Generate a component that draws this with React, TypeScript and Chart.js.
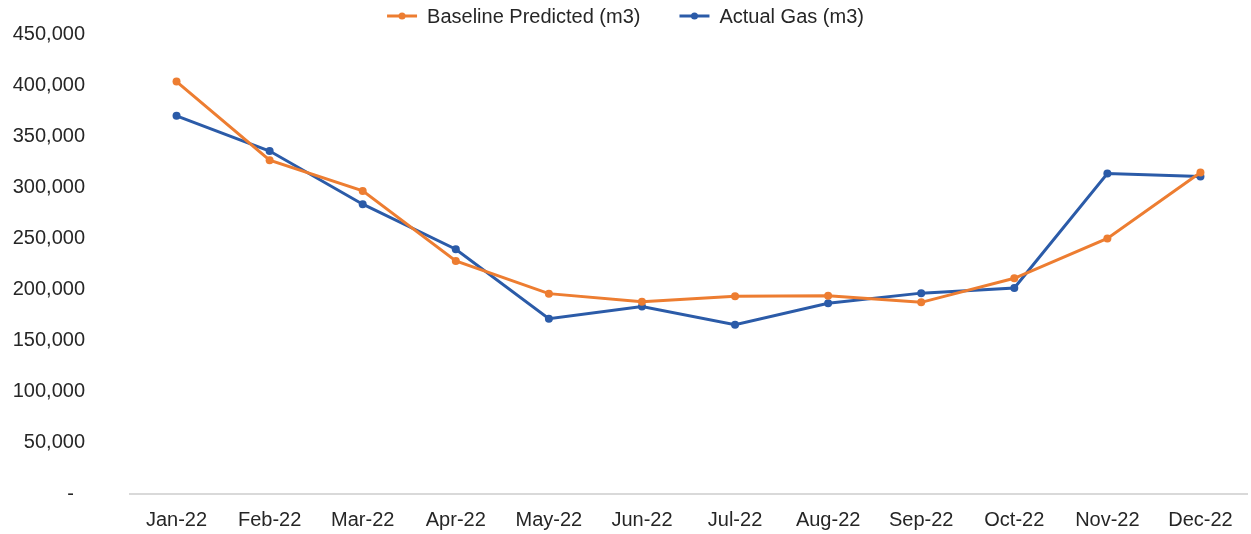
import React, { useEffect, useRef } from "react";
import { Chart, registerables } from "chart.js";

Chart.register(...registerables);

// Monthly gas consumption, 2022
const months = [
  "Jan-22", "Feb-22", "Mar-22", "Apr-22", "May-22", "Jun-22",
  "Jul-22", "Aug-22", "Sep-22", "Oct-22", "Nov-22", "Dec-22",
];

const baselinePredicted = [
  403500, 326500, 296500, 228000, 196000, 188000,
  193500, 194000, 187500, 211000, 250000, 314500,
];

const actualGas = [
  370000, 335500, 283500, 239500, 171500, 183500,
  165500, 186500, 196500, 201500, 313500, 310500,
];

const yTickValues = [0, 50000, 100000, 150000, 200000, 250000, 300000, 350000, 400000, 450000];

const ORANGE = "#ED7D31";
const BLUE = "#2B5BA8";
const TEXT = "#262626";
const FONT = "'Liberation Sans', Arial, sans-serif";

const seriesNames = ["Baseline Predicted (m3)", "Actual Gas (m3)"];
const seriesColors = [ORANGE, BLUE];

const formatTick = (v: number) => (v === 0 ? "-  " : v.toLocaleString("en-US"));

// Centered legend at the top: short line with a dot, followed by the series name
const topLegend = {
  id: "topLegend",
  afterDraw(chart: Chart) {
    const ctx = chart.ctx;
    ctx.save();
    ctx.font = `20px ${FONT}`;
    ctx.textBaseline = "middle";
    const markerW = 30;
    const gapMarkerText = 10;
    const gapItems = 39;
    const widths = seriesNames.map((n) => markerW + gapMarkerText + ctx.measureText(n).width);
    const total = widths.reduce((a, b) => a + b, 0) + gapItems * (widths.length - 1);
    let x = (chart.width - total) / 2;
    const y = 16;
    seriesNames.forEach((name, i) => {
      ctx.strokeStyle = seriesColors[i];
      ctx.fillStyle = seriesColors[i];
      ctx.lineWidth = 3;
      ctx.beginPath();
      ctx.moveTo(x, y);
      ctx.lineTo(x + markerW, y);
      ctx.stroke();
      ctx.beginPath();
      ctx.arc(x + markerW / 2, y, 3.5, 0, Math.PI * 2);
      ctx.fill();
      ctx.fillStyle = TEXT;
      ctx.textAlign = "left";
      ctx.fillText(name, x + markerW + gapMarkerText, y + 1);
      x += widths[i] + gapItems;
    });
    ctx.restore();
  },
};

export default function App() {
  const canvasRef = useRef<HTMLCanvasElement | null>(null);

  useEffect(() => {
    if (!canvasRef.current) return;
    const chart = new Chart(canvasRef.current, {
      type: "line",
      data: {
        labels: months,
        datasets: [
          {
            label: seriesNames[0],
            data: baselinePredicted,
            borderColor: ORANGE,
            backgroundColor: ORANGE,
            borderWidth: 3,
            pointRadius: 4,
            pointHoverRadius: 4,
            pointBorderWidth: 0,
            tension: 0,
          },
          {
            label: seriesNames[1],
            data: actualGas,
            borderColor: BLUE,
            backgroundColor: BLUE,
            borderWidth: 3,
            pointRadius: 4,
            pointHoverRadius: 4,
            pointBorderWidth: 0,
            tension: 0,
          },
        ],
      },
      options: {
        animation: false,
        responsive: false,
        maintainAspectRatio: false,
        layout: { padding: { top: 34, left: 0, right: 0, bottom: 0 } },
        plugins: {
          legend: { display: false },
          tooltip: { enabled: false },
        },
        scales: {
          x: {
            offset: true,
            grid: {
              display: true,
              drawOnChartArea: false,
              drawTicks: true,
              tickLength: 14,
              color: "transparent",
              tickColor: "transparent",
            },
            border: { display: true, color: "#D9D9D9", width: 2 },
            ticks: {
              color: TEXT,
              font: { family: FONT, size: 20 },
              padding: 0,
              maxRotation: 0,
              autoSkip: false,
            },
            afterFit(scale: any) {
              scale.height = 40;
            },
          },
          y: {
            min: 0,
            max: 450000,
            grid: {
              display: true,
              drawOnChartArea: false,
              drawTicks: true,
              tickLength: 45,
              color: "transparent",
              tickColor: "transparent",
            },
            border: { display: false },
            afterBuildTicks(scale: any) {
              scale.ticks = yTickValues.map((v) => ({ value: v }));
            },
            ticks: {
              color: TEXT,
              font: { family: FONT, size: 20 },
              padding: 0,
              callback: (v: any) => formatTick(Number(v)),
            },
            afterFit(scale: any) {
              scale.width = 130;
            },
          },
        },
      },
      plugins: [topLegend],
    });
    return () => chart.destroy();
  }, []);

  return (
    <div style={{ position: "fixed", left: 0, top: 0, width: 1251, height: 534, background: "#fff" }}>
      <canvas ref={canvasRef} width={1251} height={534} style={{ display: "block" }} />
    </div>
  );
}
